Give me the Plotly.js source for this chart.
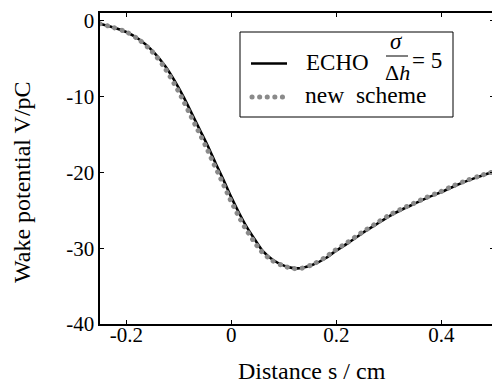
<!DOCTYPE html>
<html>
<head>
<meta charset="utf-8">
<script src="https://cdn.plot.ly/plotly-3.0.1.min.js"></script>
<style>
html, body { margin: 0; padding: 0; overflow: hidden; background: #fff; }
#chart { width: 497px; height: 385px; }
</style>
</head>
<body>
<div id="chart"></div>
<script>
// ECHO reference solution (sigma/dh = 5)
const echoX = [-0.25,-0.225,-0.2,-0.175,-0.15,-0.125,-0.1,-0.09,-0.075,-0.06,-0.045,-0.03,-0.015,0,0.015,0.03,0.045,0.06,0.08,0.1,0.115,0.13,0.155,0.18,0.2,0.225,0.25,0.275,0.3,0.325,0.35,0.375,0.4,0.425,0.45,0.475,0.5];
const echoY = [-0.42,-0.9,-1.5,-2.5,-4.0,-6.1,-8.9,-10.2,-12.3,-14.4,-16.5,-18.8,-21.0,-23.3,-25.4,-27.3,-28.9,-30.4,-31.6,-32.3,-32.6,-32.65,-32.2,-31.3,-30.3,-29.2,-28.0,-26.9,-25.8,-24.9,-24.1,-23.3,-22.6,-21.8,-21.1,-20.5,-19.9];
// new scheme
const newX = [-0.25,-0.225,-0.2,-0.176,-0.152,-0.128,-0.104,-0.094,-0.079,-0.064,-0.049,-0.034,-0.019,-0.004,0.011,0.026,0.041,0.057,0.077,0.098,0.115,0.13,0.153,0.177,0.197,0.222,0.247,0.272,0.297,0.322,0.347,0.372,0.397,0.422,0.447,0.472,0.5];
const newY = [-0.42,-0.9,-1.5,-2.5,-4.0,-6.1,-8.9,-10.2,-12.3,-14.4,-16.5,-18.8,-21.0,-23.3,-25.4,-27.3,-28.9,-30.4,-31.6,-32.3,-32.65,-32.7,-32.2,-31.3,-30.3,-29.2,-28.0,-26.9,-25.8,-24.9,-24.1,-23.3,-22.6,-21.8,-21.1,-20.5,-19.9];

const xTickVals = [-0.2, 0, 0.2, 0.4];
const xTickText = ["-0.2", "0", "0.2", "0.4"];
const yTickVals = [0, -10, -20, -30, -40];
const yTickText = ["0", "-10", "-20", "-30", "-40"];

const FONT = "'Liberation Serif'";
const GREY = "#8a8a8a";
const DOTS = "0.1px,7.5px";

// plot-area pixel geometry helpers (left 100, right 494, top 13, bottom 324)
const L = 100, R = 494, T = 13, B = 324;
const px = v => (v - L) / (R - L);
const py = v => (B - v) / (B - T);

const traces = [
  { x: echoX, y: echoY, type: "scatter", mode: "lines",
    line: { color: "#000", width: 2.6, shape: "spline", smoothing: 0.8 }, showlegend: false },
  { x: newX, y: newY, type: "scatter", mode: "lines",
    line: { color: GREY, width: 5, shape: "spline", smoothing: 0.8, dash: DOTS }, showlegend: false }
];

const axisCommon = {
  showgrid: false, zeroline: false, showline: true, linecolor: "#000", linewidth: 1.6,
  ticks: "inside", ticklen: 4, tickwidth: 1, tickcolor: "#000", mirror: "ticks",
  tickfont: { family: FONT, size: 21, color: "#000" }, tickmode: "array"
};

const layout = {
  width: 497, height: 385,
  margin: { l: L, r: 497 - R, t: T, b: 385 - B },
  paper_bgcolor: "#fff", plot_bgcolor: "#fff",
  font: { family: FONT, color: "#000" },
  xaxis: Object.assign({}, axisCommon, { range: [-0.25, 0.5], tickvals: xTickVals, ticktext: xTickText, ticklabelstandoff: -9 }),
  yaxis: Object.assign({}, axisCommon, { range: [-40, 1], tickvals: yTickVals, ticktext: yTickText }),
  shapes: [
    { type: "rect", xref: "paper", yref: "paper", x0: px(240), x1: px(453), y0: py(117), y1: py(32),
      line: { color: "#000", width: 1 }, fillcolor: "#fff", layer: "above" },
    { type: "line", xref: "paper", yref: "paper", x0: px(251), x1: px(287), y0: py(63.5), y1: py(63.5),
      line: { color: "#000", width: 2.6 } },
    { type: "line", xref: "paper", yref: "paper", x0: px(252), x1: px(288), y0: py(97), y1: py(97),
      line: { color: GREY, width: 5, dash: DOTS } },
    { type: "line", xref: "paper", yref: "paper", x0: px(386), x1: px(408), y0: py(56), y1: py(56),
      line: { color: "#000", width: 1 } }
  ],
  annotations: [
    { text: "ECHO", xref: "paper", yref: "paper", x: px(304), y: py(63), xanchor: "left", yanchor: "middle",
      showarrow: false, font: { family: FONT, size: 23 } },
    { text: "<i>σ</i>", xref: "paper", yref: "paper", x: px(396), y: py(41), xanchor: "center", yanchor: "middle",
      showarrow: false, borderpad: 0, font: { family: FONT, size: 23 } },
    { text: "Δ<i>h</i>", xref: "paper", yref: "paper", x: px(397), y: py(72), xanchor: "center", yanchor: "middle",
      showarrow: false, borderpad: 0, font: { family: FONT, size: 22 } },
    { text: "= 5", xref: "paper", yref: "paper", x: px(411), y: py(60), xanchor: "left", yanchor: "middle",
      showarrow: false, borderpad: 0, font: { family: FONT, size: 23 } },
    { text: "new  scheme", xref: "paper", yref: "paper", x: px(304), y: py(95), xanchor: "left", yanchor: "middle",
      showarrow: false, borderpad: 0, font: { family: FONT, size: 23.5 } },
    { text: "Distance s / cm", xref: "paper", yref: "paper", x: px(312), y: py(371), xanchor: "center", yanchor: "middle",
      showarrow: false, font: { family: FONT, size: 24 } },
    { text: "Wake potential V/pC", xref: "paper", yref: "paper", x: px(22), y: py(182), xanchor: "center", yanchor: "middle",
      textangle: -90, showarrow: false, font: { family: FONT, size: 24 } }
  ]
};

Plotly.newPlot("chart", traces, layout, { staticPlot: true, displayModeBar: false }).then(() => {
  document.querySelectorAll("#chart path").forEach(p => {
    const d = p.style.strokeDasharray || "";
    if (d.indexOf("0.1") === 0) p.style.strokeLinecap = "round";
  });
});
</script>
</body>
</html>
